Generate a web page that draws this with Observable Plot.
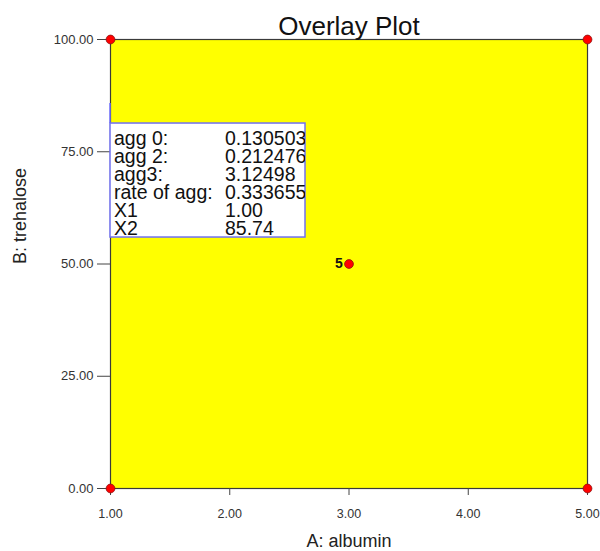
<!DOCTYPE html>
<html>
<head>
<meta charset="utf-8">
<script src="https://cdn.jsdelivr.net/npm/d3@7"></script>
<script src="https://cdn.jsdelivr.net/npm/@observablehq/plot@0.6"></script>
<style>
  html, body { margin: 0; padding: 0; background: #fff; }
  svg { font-family: "Liberation Sans", Arial, sans-serif; }
</style>
</head>
<body>
<div id="chart"></div>
<script>
// ---- data ----
const title = "Overlay Plot";
const xLabel = "A: albumin";
const yLabel = "B: trehalose";
const xTicks = [1, 2, 3, 4, 5];
const yTicks = [0, 25, 50, 75, 100];
const designX = [1, 5, 1, 5, 3];
const designY = [0, 0, 100, 100, 50];
const designLabel = ["", "", "", "", "5"];
const flagNames = ["agg 0:", "agg 2:", "agg3:", "rate of agg:", "X1", "X2"];
const flagValues = ["0.130503", "0.212476", "3.12498", "0.333655", "1.00", "85.74"];
const flagX = 1.00;
const flagY = 85.74;

const points = designX.map((x, i) => ({x, y: designY[i], label: designLabel[i]}));

const plot = Plot.plot({
  width: 600,
  height: 551,
  marginLeft: 110,
  marginRight: 13,
  marginTop: 39,
  marginBottom: 63,
  style: {fontFamily: "'Liberation Sans', Arial, sans-serif", background: "#fff", color: "#333"},
  x: {domain: [1, 5], ticks: xTicks, tickFormat: d => d.toFixed(2)},
  y: {domain: [0, 100], ticks: yTicks, tickFormat: d => d.toFixed(2)},
  marks: [
    Plot.frame({fill: "#ffff00"}),
    Plot.frame({stroke: "#3a3a3a", strokeWidth: 1.2}),
    Plot.axisX({ticks: xTicks, tickFormat: d => d.toFixed(2), tickSize: 7, tickPadding: 14, fontSize: 12.5, fill: "#333", stroke: "#444", label: null}),
    Plot.axisY({ticks: yTicks, tickFormat: d => d.toFixed(2), tickSize: 13, tickPadding: 4, fontSize: 13, fill: "#333", stroke: "#444", label: null}),
    Plot.text([title], {frameAnchor: "top", lineAnchor: "bottom", dy: -5, fontSize: 26, fill: "#111"}),
    Plot.text([xLabel], {frameAnchor: "bottom", lineAnchor: "bottom", dy: 58, fontSize: 18, fill: "#222"}),
    Plot.text([yLabel], {frameAnchor: "left", dx: -90, rotate: -90, fontSize: 18, fill: "#222"}),
    Plot.text(points, {x: "x", y: "y", text: "label", dx: -10, fontSize: 14, fill: "#111", fontWeight: "bold"}),
    Plot.dot(points, {x: "x", y: "y", r: 4.4, fill: "#ff0000", stroke: "#8a1010", strokeWidth: 0.8})
  ]
});

document.getElementById("chart").appendChild(plot);

// flag/tooltip box anchored at the flagged point using the plot's scales
const sx = plot.scale("x"), sy = plot.scale("y");
const px = sx.apply(flagX), py = sy.apply(flagY);
const svg = d3.select(plot);
const boxW = 195, boxTop = py + 20, lineH = 18, boxH = 114;
svg.append("defs").append("clipPath").attr("id", "flagclip")
  .append("rect").attr("x", px).attr("y", boxTop).attr("width", boxW).attr("height", boxH);
const g = svg.append("g");
g.append("line").attr("x1", px).attr("x2", px).attr("y1", py).attr("y2", boxTop)
  .attr("stroke", "#6f6fff").attr("stroke-width", 1.5);
g.append("rect").attr("x", px).attr("y", boxTop).attr("width", boxW).attr("height", boxH)
  .attr("fill", "#fff").attr("stroke", "#7070f0").attr("stroke-width", 1.5);
const tg = g.append("g").attr("clip-path", "url(#flagclip)")
  .attr("font-size", 19.5).attr("fill", "#111").attr("text-anchor", "start");
flagNames.forEach((n, i) => {
  tg.append("text").attr("x", px + 4).attr("y", boxTop + 22 + i * lineH).text(n);
  tg.append("text").attr("x", px + 115).attr("y", boxTop + 22 + i * lineH).attr("textLength", null).text(flagValues[i]);
});
</script>
</body>
</html>
